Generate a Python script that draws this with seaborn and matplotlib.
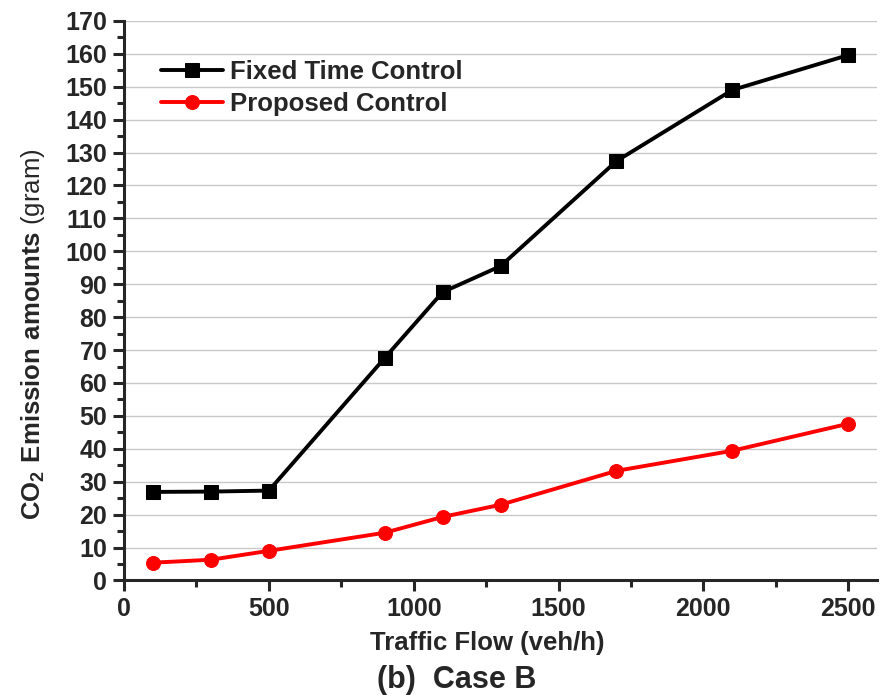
import pandas as pd
import matplotlib.pyplot as plt
import seaborn as sns
from matplotlib.ticker import MultipleLocator

# values
flow = [100, 300, 500, 900, 1100, 1300, 1700, 2100, 2500]
fixed_time = [26.9, 27.0, 27.3, 67.6, 87.6, 95.5, 127.4, 149.0, 159.6]
proposed = [5.4, 6.3, 9.0, 14.5, 19.3, 23.0, 33.3, 39.4, 47.6]

df = pd.DataFrame({'flow': flow, 'fixed': fixed_time, 'proposed': proposed})

sns.set_style('ticks')
plt.rcParams['font.family'] = ['Liberation Sans', 'DejaVu Sans']
plt.rcParams['mathtext.fontset'] = 'custom'
plt.rcParams['mathtext.rm'] = 'Liberation Sans'
plt.rcParams['mathtext.bf'] = 'Liberation Sans:bold'

fig = plt.figure(figsize=(8.86, 6.96), dpi=100)
ax = fig.add_axes([0.140, 0.166, 0.850, 0.804])

sns.lineplot(data=df, x='flow', y='fixed', ax=ax, color='black', marker='s',
             markersize=9.5, linewidth=2.8, markeredgecolor='black',
             label='Fixed Time Control')
sns.lineplot(data=df, x='flow', y='proposed', ax=ax, color='red', marker='o',
             markersize=10, linewidth=2.8, markeredgecolor='red',
             label='Proposed Control')

ax.set_xlim(0, 2600)
ax.set_ylim(0, 170)
ax.xaxis.set_major_locator(MultipleLocator(500))
ax.xaxis.set_minor_locator(MultipleLocator(250))
ax.yaxis.set_major_locator(MultipleLocator(10))
ax.yaxis.set_minor_locator(MultipleLocator(5))
ax.grid(axis='y', which='major', color='#c8c8c8', linewidth=1.0)
ax.set_axisbelow(True)

sns.despine(ax=ax)
for s in ['left', 'bottom']:
    ax.spines[s].set_linewidth(2.2)
ax.tick_params(which='major', length=8, width=2.2, labelsize=18, pad=4)
ax.tick_params(which='minor', length=5, width=2.2)
for lab in ax.get_xticklabels() + ax.get_yticklabels():
    lab.set_fontweight('bold')

ax.set_xlabel('Traffic Flow (veh/h)', fontsize=18.5, fontweight='bold')
ax.xaxis.set_label_coords(0.482, -0.09)
ax.set_ylabel(r'$\mathbf{CO_2\ Emission\ amounts}$ (gram)', fontsize=18.5)
ax.yaxis.set_label_coords(-0.102, 0.44)
fig.text(0.516, 0.012, '(b)  Case B', ha='center', va='baseline',
         fontsize=22, fontweight='bold')

leg = ax.legend(loc='upper left', bbox_to_anchor=(0.036, 0.948), frameon=False,
                prop={'size': 18.5, 'weight': 'bold'}, handlelength=2.4,
                handletextpad=0.25, labelspacing=0.3, borderaxespad=0)

plt.savefig('out.png', dpi=100)
plt.close()
